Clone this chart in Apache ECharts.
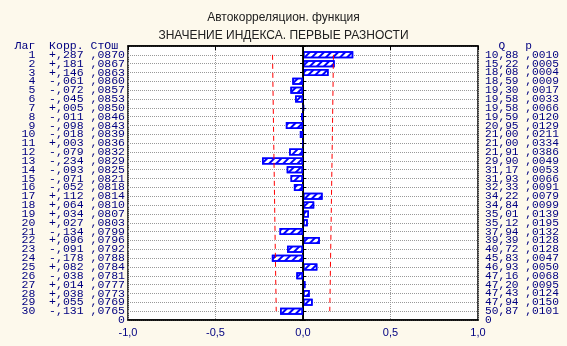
<!DOCTYPE html>
<html><head><meta charset="utf-8">
<script src="https://cdn.jsdelivr.net/npm/echarts@6/dist/echarts.min.js"></script>
<style>html,body{margin:0;padding:0;background:#fdf9ec;}#c{width:567px;height:346px;}</style>
</head><body><div id="c"></div>
<script>
const lags = [1,2,3,4,5,6,7,8,9,10,11,12,13,14,15,16,17,18,19,20,21,22,23,24,25,26,27,28,29,30];
const acf = [0.287,0.181,0.146,-0.061,-0.072,-0.045,0.005,-0.011,-0.098,-0.018,0.003,-0.079,-0.234,-0.093,-0.071,-0.052,0.112,0.064,0.034,0.027,-0.134,0.096,-0.091,-0.178,0.082,-0.038,0.014,0.038,0.055,-0.131];
const se = [0.0870,0.0867,0.0863,0.0860,0.0857,0.0853,0.0850,0.0846,0.0843,0.0839,0.0836,0.0832,0.0829,0.0825,0.0821,0.0818,0.0814,0.0810,0.0807,0.0803,0.0799,0.0796,0.0792,0.0788,0.0784,0.0781,0.0777,0.0773,0.0769,0.0765];
const qStat = [10.88,15.22,18.08,18.59,19.30,19.58,19.58,19.59,20.95,21.00,21.00,21.91,29.90,31.17,31.93,32.33,34.22,34.84,35.01,35.12,37.94,39.39,40.72,45.83,46.93,47.16,47.20,47.43,47.94,50.87];
const pVal = [0.0010,0.0005,0.0004,0.0009,0.0017,0.0033,0.0066,0.0120,0.0129,0.0211,0.0334,0.0386,0.0049,0.0053,0.0066,0.0091,0.0079,0.0099,0.0139,0.0195,0.0132,0.0128,0.0128,0.0047,0.0050,0.0068,0.0095,0.0124,0.0150,0.0101];
const xTicks = [-1,-0.5,0,0.5,1];
const leftHeader = 'Лаг  Корр. СтОш ';
const rightHeader = '  Q   p    ';
const titleText = 'Автокорреляцион. функция';
const subText = 'ЗНАЧЕНИЕ ИНДЕКСА. ПЕРВЫЕ РАЗНОСТИ';

const cats = ['h'].concat(lags.map(String)).concat(['e']);
function frac(v, d){ return ',' + Math.round(Math.abs(v)*Math.pow(10,d)).toString().padStart(d,'0'); }
function pad(s,n){ s=String(s); while(s.length<n) s=' '+s; return s; }
function leftLabel(val, idx){
  if (idx===0) return leftHeader;
  if (idx===cats.length-1) return '0';
  const i = idx-1;
  const a = acf[i];
  return pad(lags[i],3) + '  ' + (a>=0?'+':'-') + frac(a,3) + ' ' + frac(se[i],4);
}
function rightLabel(val, idx){
  if (idx===0) return rightHeader;
  if (idx===cats.length-1) return '0';
  const i = idx-1;
  return qStat[i].toFixed(2).replace('.',',') + ' ' + frac(pVal[i],4);
}
const navy = '#000080';
const chart = echarts.init(document.getElementById('c'), null, {renderer:'canvas'});
const mono = "'Liberation Mono','DejaVu Sans Mono',monospace";
chart.setOption({
  backgroundColor: '#fdf9ec',
  animation: false,
  title: [
    {text: titleText, left: 'center', top: 7, textStyle:{fontFamily:'Liberation Sans, Arial', fontSize:12, fontWeight:'normal', color:'#202020'}},
    {text: subText, left: 'center', top: 25, textStyle:{fontFamily:'Liberation Sans, Arial', fontSize:12, fontWeight:'normal', color:'#202020'}}
  ],
  grid: {left:128, right:89, top:46, bottom:26, show:true, backgroundColor:'#ffffff', borderColor:'#000', borderWidth:1.5},
  xAxis: [
    {type:'value', min:-1, max:1, interval:0.5, position:'bottom',
     axisLine:{show:true, lineStyle:{color:'#000', width:1.5}},
     axisTick:{show:false},
     axisLabel:{margin:7, color:navy, fontFamily:'Liberation Sans, Arial', fontSize:11,
       formatter: v => v.toFixed(1).replace('.',',')},
     splitLine:{show:true, lineStyle:{color:'#999', type:'dotted', width:1}}},
    {type:'value', min:-1, max:1, interval:0.5, position:'top',
     axisLine:{show:true, lineStyle:{color:'#000', width:1.5}},
     axisTick:{show:true, inside:true, length:4, lineStyle:{color:'#000'}},
     axisLabel:{show:false}, splitLine:{show:false}}
  ],
  yAxis: [
    {type:'category', data:cats, inverse:true, boundaryGap:false, position:'left',
     axisLine:{show:true, lineStyle:{color:'#000', width:1.5}},
     axisTick:{show:true, inside:true, length:3, interval:0, lineStyle:{color:'#000'}},
     axisLabel:{interval:0, margin:3, color:navy, fontFamily:mono, fontSize:11.5, formatter:leftLabel},
     splitLine:{show:true, interval:0, lineStyle:{color:'#999', type:'dotted', width:1}}},
    {type:'category', data:cats, inverse:true, boundaryGap:false, position:'right',
     axisLine:{show:true, lineStyle:{color:'#000', width:1.5}},
     axisTick:{show:true, inside:true, length:3, interval:0, lineStyle:{color:'#000'}},
     axisLabel:{interval:0, margin:7, color:navy, fontFamily:mono, fontSize:11.2, formatter:rightLabel},
     splitLine:{show:false}}
  ],
  series: [
    {type:'bar', xAxisIndex:0, yAxisIndex:0, barWidth:7,
     data: acf.map((v,i)=>[v, String(lags[i])]),
     itemStyle:{color:'#ffffff', borderColor:'#0000ff', borderWidth:1.5,
       decal:{symbol:'rect', symbolSize:1, dashArrayX:[1,0], dashArrayY:[1.2,2.8], rotation:-Math.PI/4, color:'#0000ff'}},
     markLine:{silent:true, symbol:'none', label:{show:false}, lineStyle:{color:'#000', type:'solid', width:1},
       data:[{xAxis:0}]}},
    {type:'line', xAxisIndex:0, yAxisIndex:0, symbol:'none', silent:true,
     data: se.map((s,i)=>[2*s, String(lags[i])]),
     lineStyle:{color:'#ff0000', type:[5,4], width:1}},
    {type:'line', xAxisIndex:0, yAxisIndex:0, symbol:'none', silent:true,
     data: se.map((s,i)=>[-2*s, String(lags[i])]),
     lineStyle:{color:'#ff0000', type:[5,4], width:1}}
  ]
});
</script></body></html>
